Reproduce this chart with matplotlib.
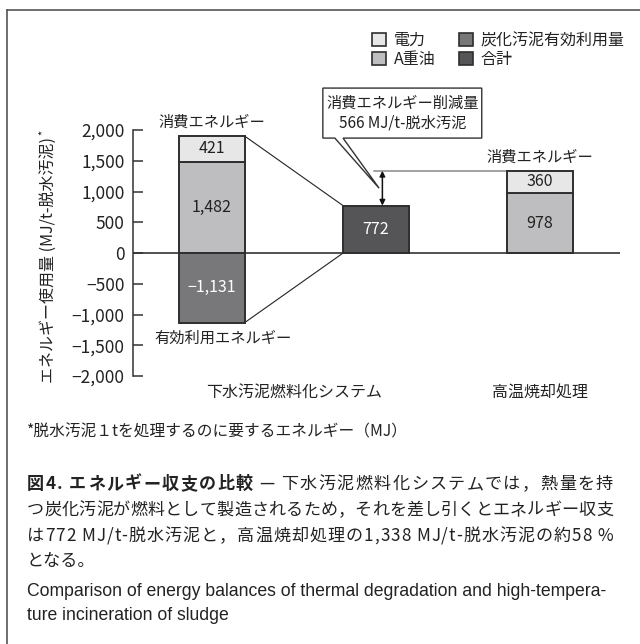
import matplotlib
matplotlib.use("Agg")
import matplotlib.pyplot as plt
from matplotlib.patches import Patch, Polygon
from matplotlib.lines import Line2D
from matplotlib.ticker import FuncFormatter

plt.rcParams['font.family'] = ['Noto Sans CJK JP', 'DejaVu Sans']

# energy use per tonne of dewatered sludge [MJ/t]
systems     = ['下水汚泥燃料化システム', '高温焼却処理']
power       = [421, 360]      # 電力
heavy_oil   = [1482, 978]     # A重油
char_credit = [-1131, 0]      # 炭化汚泥有効利用量
net_fuel    = power[0] + heavy_oil[0] + char_credit[0]   # 合計 = 772
incin_total = power[1] + heavy_oil[1]                    # 1,338

C_POWER = '#e7e7e8'
C_OIL   = '#bebec0'
C_CHAR  = '#78787b'
C_NET   = '#555557'
EDGE    = '#2e2e2e'
TXT     = '#222222'
W = 0.4

fig = plt.figure(figsize=(6.4, 6.44), dpi=100)
ax = fig.add_axes([0.208, 0.416, 0.761, 0.382])

# stacked bars: fuel system (x=0), net total (x=1), incineration (x=2)
xs = [0, 2]
ax.bar(xs, heavy_oil, W, color=C_OIL, edgecolor=EDGE, lw=1.4, zorder=3)
ax.bar(xs, power, W, bottom=heavy_oil, color=C_POWER, edgecolor=EDGE, lw=1.4, zorder=3)
ax.bar([0], char_credit[:1], W, color=C_CHAR, edgecolor=EDGE, lw=1.4, zorder=3)
ax.bar([1], [net_fuel], W, color=C_NET, edgecolor=EDGE, lw=1.4, zorder=3)

fmt = lambda v: f'{v:,}'.replace('-', '−')
for x, p, o in zip(xs, power, heavy_oil):
    ax.text(x, o + p / 2, fmt(p), ha='center', va='center', fontsize=11.5, color=TXT, zorder=4)
    ax.text(x, o / 2, fmt(o), ha='center', va='center', fontsize=11.5, color=TXT, zorder=4)
ax.text(0, char_credit[0] / 2, fmt(char_credit[0]), ha='center', va='center',
        fontsize=11.5, color='white', zorder=4)
ax.text(1, net_fuel / 2, fmt(net_fuel), ha='center', va='center',
        fontsize=11.5, color='white', zorder=4)

# thin lines tying the fuel-system stack to its net total
top0 = power[0] + heavy_oil[0]
ax.plot([W / 2, 1 - W / 2], [top0, net_fuel], color='#222', lw=0.8, zorder=2)
ax.plot([W / 2, 1 - W / 2], [char_credit[0], 0], color='#222', lw=0.8, zorder=2)

ax.axhline(0, color='#333', lw=1.2, zorder=2)

# reduction: level of incineration total and double arrow
ax.plot([0.99, 2 - W / 2], [incin_total, incin_total], color='#8a8a8a', lw=1.1, zorder=2)
ax.annotate('', xy=(1.04, net_fuel), xytext=(1.04, incin_total),
            arrowprops=dict(arrowstyle='<|-|>', color='#111', lw=1.1,
                            mutation_scale=8, shrinkA=0, shrinkB=0))

# callout bubble
tip = (1.02, (net_fuel + incin_total) / 2)
bl, br, bb, bt = 0.677, 1.646, 1870, 2683
bubble = Polygon([(bl, bb), (0.75, bb), tip, (0.80, bb), (br, bb), (br, bt), (bl, bt)],
                 closed=True, fc='white', ec='#333', lw=1.0, clip_on=False, zorder=5)
ax.add_patch(bubble)
ax.text((bl + br) / 2, (bb + bt) / 2,
        f'消費エネルギー削減量\n{incin_total - net_fuel} MJ/t-脱水汚泥',
        ha='center', va='center', fontsize=11, color=TXT, linespacing=1.2,
        zorder=6, clip_on=False)

ax.annotate('消費エネルギー', (0, top0), xytext=(0, 4), textcoords='offset points',
            ha='center', va='bottom', fontsize=11, color=TXT, annotation_clip=False)
ax.annotate('有効利用エネルギー', (0.07, char_credit[0]), xytext=(0, -5),
            textcoords='offset points', ha='center', va='top', fontsize=11,
            color=TXT, annotation_clip=False)
ax.annotate('消費エネルギー', (2, incin_total), xytext=(0, 4), textcoords='offset points',
            ha='center', va='bottom', fontsize=11, color=TXT, annotation_clip=False)

tr = ax.get_xaxis_transform()
ax.text(0.5, -0.068, systems[0], transform=tr, ha='center', va='center',
        fontsize=11.5, color=TXT)
ax.text(2, -0.068, systems[1], transform=tr, ha='center', va='center',
        fontsize=11.5, color=TXT)

ax.set_xlim(-0.48, 2.49)
ax.set_ylim(-2000, 2000)
ax.set_yticks(range(-2000, 2001, 500))
ax.yaxis.set_major_formatter(FuncFormatter(lambda v, _: fmt(int(v))))
ax.tick_params(axis='y', direction='in', length=7, width=1.1, color='#333',
               labelsize=12.5, labelcolor=TXT, pad=6)
ax.tick_params(axis='x', length=0, labelbottom=False)
for s in ['top', 'right', 'bottom']:
    ax.spines[s].set_visible(False)
ax.spines['left'].set_color('#333')
ax.spines['left'].set_linewidth(1.1)
ax.patch.set_visible(False)

fig.text(48 / 640, 1 - 260 / 644, 'エネルギー使用量 (MJ/t-脱水汚泥)', rotation=90,
         ha='center', va='center', fontsize=11.5, color=TXT)
fig.text(43 / 640, 1 - 132 / 644, '*', rotation=90, ha='center', va='center',
         fontsize=8, color=TXT)

handles = [Patch(fc=C_POWER, ec=EDGE, lw=1.2), Patch(fc=C_OIL, ec=EDGE, lw=1.2),
           Patch(fc=C_CHAR, ec=EDGE, lw=1.2), Patch(fc=C_NET, ec=EDGE, lw=1.2)]
labels = ['電力', 'A重油', '炭化汚泥有効利用量', '合計']
fig.legend(handles, labels, ncol=2, loc='upper left', bbox_to_anchor=(372 / 640, 1 - 32 / 644),
           frameon=False, fontsize=11.5, handlelength=0.85, handleheight=0.85,
           handletextpad=0.5, columnspacing=1.5, labelspacing=0.15, borderpad=0,
           borderaxespad=0, labelcolor=TXT)

# outer frame (top and left edges)
fig.add_artist(Line2D([7 / 640, 1], [1 - 10 / 644] * 2, color='#555', lw=1.2))
fig.add_artist(Line2D([7 / 640] * 2, [0, 1 - 10 / 644], color='#555', lw=1.2))

# footnote and caption
fig.text(27 / 640, 1 - 432 / 644, '*脱水汚泥１tを処理するのに要するエネルギー（MJ）',
         ha='left', va='center', fontsize=11.3, color=TXT)

renderer = fig.canvas.get_renderer()


def justified(segments, y_px, x0_px, x1_px, size, family=None):
    # one text per character, spread so the line fills x0..x1
    chars = []
    for text, weight in segments:
        for ch in text:
            t = fig.text(0, 1 - y_px / 644, ch, ha='left', va='center',
                         fontsize=size, fontweight=weight, color=TXT)
            if family:
                t.set_family(family)
            chars.append(t)
    widths = [t.get_window_extent(renderer).width for t in chars]
    gap = (x1_px - x0_px - sum(widths)) / (len(chars) - 1)
    x = x0_px
    for t, w in zip(chars, widths):
        t.set_x(x / 640)
        x += w + gap


justified([('図4. エネルギー収支の比較', 'bold'), (' — 下水汚泥燃料化システムでは，熱量を持', 'normal')],
          484, 27, 613, 12.3)
justified([('つ炭化汚泥が燃料として製造されるため，それを差し引くとエネルギー収支', 'normal')],
          510, 27, 613, 12.3)
justified([('は772 MJ/t-脱水汚泥と，高温焼却処理の1,338 MJ/t-脱水汚泥の約58 %', 'normal')],
          536, 27, 613, 12.3)
fig.text(27 / 640, 1 - 561 / 644, 'となる。', ha='left', va='center', fontsize=12.3, color=TXT)

eng = ['Comparison of energy balances of thermal degradation and high-tempera-',
       'ture incineration of sludge']
for i, line in enumerate(eng):
    fig.text(27 / 640, 1 - (591 + 25 * i) / 644, line, ha='left', va='center',
             fontsize=12.7, color=TXT, family=['Liberation Sans', 'DejaVu Sans'])

fig.savefig('out.png', dpi=100, facecolor='white')
